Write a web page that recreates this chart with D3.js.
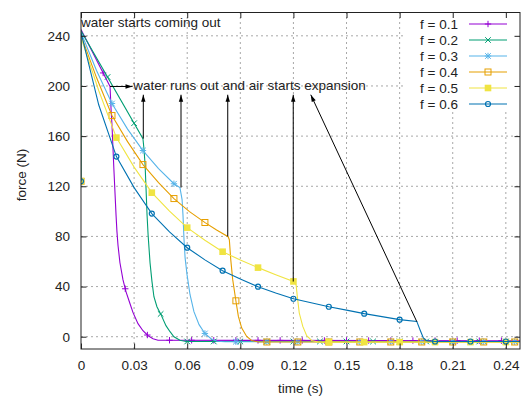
<!DOCTYPE html>
<html>
<head>
<meta charset="utf-8">
<script src="https://cdn.jsdelivr.net/npm/d3@7"></script>
<style>
  body { margin: 0; background: #fff; }
  svg { display: block; font-family: "Liberation Sans", Arial, sans-serif; }
</style>
</head>
<body>
<svg width="522" height="396"></svg>
<script>
// dữ liệu: [thời gian (s), lực (N)]
const seriesNames = ["f = 0.1", "f = 0.2", "f = 0.3", "f = 0.4", "f = 0.5", "f = 0.6"];

const f01 = [[0,124],[0,245],[0.0164,199.6],[0.0170,181],[0.0175,169],[0.0186,133],[0.0198,97],
  [0.0203,84],[0.0209,73],[0.0220,59],[0.0237,45.5],[0.0254,36],[0.0277,26.3],[0.0294,19.2],
  [0.0322,10.4],[0.0350,4.8],[0.0379,0.8],[0.0407,-1.6],[0.0435,-2.8],[0.248,-3.2]];
const f02 = [[0,124],[0,244],[0.035,158],[0.0356,149.3],[0.0362,137.3],[0.0367,119.7],[0.0373,97.4],
  [0.0379,81.4],[0.0390,59],[0.0401,43.9],[0.0412,31.9],[0.0429,23.9],[0.0452,17.6],[0.0480,8.8],
  [0.0503,4],[0.0525,0],[0.0559,-2.8],[0.0593,-3.8],[0.248,-3.8]];
const f03 = [[0,124],[0,242.7],[0.00876,212.3],[0.0175,186],[0.0263,165.6],[0.035,148.5],[0.0438,134.1],
  [0.0525,122],[0.0559,118.9],[0.0571,109.4],[0.0576,97.4],[0.0582,77.4],[0.0588,63.1],[0.0599,49.5],
  [0.0616,33.5],[0.0638,20],[0.0667,9.6],[0.0701,2.4],[0.0735,-1.6],[0.0768,-3.6],[0.0814,-4],[0.248,-4]];
const f04 = [[0,124],[0,240.3],[0.00876,206.7],[0.0175,176.4],[0.0263,155.6],[0.035,137.3],[0.0438,122.9],
  [0.0525,110.2],[0.0613,99.8],[0.0701,91],[0.0766,85.1],[0.0831,79.8],[0.0838,77.4],[0.0846,61.5],
  [0.0857,45.5],[0.0876,27.7],[0.0889,16.2],[0.0908,6.9],[0.0936,0.2],[0.0964,-3],[0.1002,-4.2],[0.248,-4.2]];
const f05 = [[0,124],[0,238.7],[0.01,196.4],[0.02,158.8],[0.03,135.3],[0.04,114.9],[0.05,100.2],[0.06,87],
  [0.07,77],[0.08,67.8],[0.09,61.2],[0.1,55.1],[0.11,49.5],[0.12,44.1],[0.1215,41.5],[0.1222,32.2],
  [0.1233,18.9],[0.1253,8.2],[0.1275,0.8],[0.1303,-3],[0.1341,-4.3],[0.248,-4.3]];
const f06 = [[0,124],[0,242.7],[0.01,185],[0.02,143.7],[0.03,118.9],[0.04,98.2],[0.05,83.6],[0.06,71],
  [0.07,61.3],[0.08,52.7],[0.09,46],[0.1,39.9],[0.11,34.9],[0.12,30.3],[0.13,27.1],[0.14,23.9],
  [0.15,21.2],[0.16,18.4],[0.17,16],[0.18,13.6],[0.1897,12.2],[0.1915,5.6],[0.1934,-1],[0.1953,-3.2],
  [0.2,-3.8],[0.248,-3.8]];

// khoảng cách thời gian giữa các điểm đánh dấu (như pointinterval của gnuplot)
const markerStep = [0.0125, 0.015, 0.0175, 0.0175, 0.02, 0.02];
const colors = ["#9400d3", "#009e73", "#56b4e9", "#e69f00", "#f0e442", "#0072b2"];
const shapes = ["plus", "cross", "star", "square", "filledSquare", "circle"];

const xTicks = [0, 0.03, 0.06, 0.09, 0.12, 0.15, 0.18, 0.21, 0.24];
const yTicks = [0, 40, 80, 120, 160, 200, 240];

// chú thích: điểm gãy của từng đường và đỉnh mũi tên
const bendT = [0.0352, 0.0565, 0.0829, 0.1199, 0.1897];
const bendV = [158, 119, 80, 44, 12];
const tipT = [0.0352, 0.0565, 0.0829, 0.1199, 0.1298];
const tipV = 193;
const runOutArrow = [[0.0164, 199.6], [0.0291, 199.6]];
const runOutLabel = { t: 0.0295, v: 200, text: "water runs out and air starts expansion" };
const startLabel = { t: 0, v: 250.6, text: "water starts coming out" };

const allSeries = [f01, f02, f03, f04, f05, f06];

const svg = d3.select("svg");
const W = +svg.attr("width"), H = +svg.attr("height");
const margin = { top: 12.5, right: 2, bottom: 47, left: 81 };

const x = d3.scaleLinear().domain([0, 0.248]).range([margin.left, W - margin.right]);
const y = d3.scaleLinear().domain([-9.8, 258.6]).range([H - margin.bottom, margin.top]);

const ink = "#222";

// lưới
const grid = svg.append("g").attr("stroke", "#a8a8a8").attr("stroke-width", 1).attr("stroke-dasharray", "2,3");
xTicks.slice(1).forEach(t => {
  grid.append("line").attr("x1", x(t)).attr("x2", x(t)).attr("y1", y.range()[0]).attr("y2", y.range()[1]);
});
yTicks.forEach(v => {
  grid.append("line").attr("x1", x.range()[0]).attr("x2", x.range()[1]).attr("y1", y(v)).attr("y2", y(v));
});

// nền trắng của chú giải
svg.append("rect")
  .attr("x", 404).attr("y", margin.top).attr("width", x.range()[1] - 404).attr("height", 98)
  .attr("fill", "#fff");

// vẽ đường
svg.append("defs").append("clipPath").attr("id", "plot")
  .append("rect")
  .attr("x", x.range()[0]).attr("y", y.range()[1])
  .attr("width", x.range()[1] - x.range()[0]).attr("height", y.range()[0] - y.range()[1]);

const line = d3.line().x(d => x(d[0])).y(d => y(d[1]));
const plot = svg.append("g").attr("clip-path", "url(#plot)");

// nội suy giá trị trên đường gấp khúc tại thời điểm t (để đặt marker)
function valueAt(pts, t) {
  if (t <= pts[0][0]) return pts[0][1];
  for (let i = 1; i < pts.length; i++) {
    const a = pts[i - 1], b = pts[i];
    if (t <= b[0] && b[0] > a[0]) {
      return a[1] + (b[1] - a[1]) * (t - a[0]) / (b[0] - a[0]);
    }
  }
  return pts[pts.length - 1][1];
}

function drawMarker(g, shape, cx, cy, color) {
  const s = 3.2;
  if (shape === "plus" || shape === "star") {
    g.append("path").attr("d", `M${cx - s},${cy}H${cx + s}M${cx},${cy - s}V${cy + s}`)
      .attr("stroke", color).attr("stroke-width", 1).attr("fill", "none");
  }
  if (shape === "cross" || shape === "star") {
    const c = 2.8;
    g.append("path").attr("d", `M${cx - c},${cy - c}L${cx + c},${cy + c}M${cx - c},${cy + c}L${cx + c},${cy - c}`)
      .attr("stroke", color).attr("stroke-width", 1).attr("fill", "none");
  }
  if (shape === "square") {
    g.append("rect").attr("x", cx - 3).attr("y", cy - 3).attr("width", 6).attr("height", 6)
      .attr("fill", "none").attr("stroke", color).attr("stroke-width", 1);
  }
  if (shape === "filledSquare") {
    g.append("rect").attr("x", cx - 3.3).attr("y", cy - 3.3).attr("width", 6.6).attr("height", 6.6)
      .attr("fill", color);
  }
  if (shape === "circle") {
    g.append("circle").attr("cx", cx).attr("cy", cy).attr("r", 2.5)
      .attr("fill", "none").attr("stroke", color).attr("stroke-width", 1.2);
  }
}

allSeries.forEach((pts, i) => {
  plot.append("path")
    .datum(pts)
    .attr("d", line)
    .attr("fill", "none")
    .attr("stroke", colors[i])
    .attr("stroke-width", 1.1);
  const mg = plot.append("g");
  for (let k = 0; k * markerStep[i] <= x.domain()[1] + 1e-9; k++) {
    const t = k * markerStep[i];
    drawMarker(mg, shapes[i], x(t), y(valueAt(pts, t)), colors[i]);
  }
});

// mũi tên và chữ chú thích
const defs = svg.select("defs");
defs.append("marker")
  .attr("id", "head")
  .attr("viewBox", "-8 -4 9 8")
  .attr("refX", 0).attr("refY", 0)
  .attr("markerWidth", 9).attr("markerHeight", 8)
  .attr("markerUnits", "userSpaceOnUse")
  .attr("orient", "auto")
  .append("path").attr("d", "M0,0L-7,-2.2L-7,2.2Z").attr("fill", "#000");

const notes = svg.append("g").attr("stroke", "#000").attr("stroke-width", 1);
bendT.forEach((t, i) => {
  notes.append("line")
    .attr("x1", x(t)).attr("y1", y(bendV[i]))
    .attr("x2", x(tipT[i])).attr("y2", y(tipV))
    .attr("marker-end", "url(#head)");
});
notes.append("line")
  .attr("x1", x(runOutArrow[0][0])).attr("y1", y(runOutArrow[0][1]))
  .attr("x2", x(runOutArrow[1][0])).attr("y2", y(runOutArrow[1][1]))
  .attr("marker-end", "url(#head)");

svg.append("text")
  .attr("x", x(runOutLabel.t)).attr("y", y(runOutLabel.v))
  .attr("dominant-baseline", "central")
  .attr("font-size", "13.5px").attr("fill", ink)
  .text(runOutLabel.text);
svg.append("text")
  .attr("x", x(startLabel.t)).attr("y", y(startLabel.v))
  .attr("dominant-baseline", "central")
  .attr("font-size", "13.5px").attr("fill", ink)
  .text(startLabel.text);

// chú giải
const legend = svg.append("g");
seriesNames.forEach((name, i) => {
  const ly = 24 + i * 16;
  legend.append("text")
    .attr("x", 458).attr("y", ly)
    .attr("text-anchor", "end").attr("dominant-baseline", "central")
    .attr("font-size", "13.5px").attr("fill", ink)
    .text(name);
  legend.append("line")
    .attr("x1", 469).attr("x2", 507).attr("y1", ly).attr("y2", ly)
    .attr("stroke", colors[i]).attr("stroke-width", 1.1);
  drawMarker(legend, shapes[i], 488, ly, colors[i]);
});

// trục, vạch chia hướng vào trong
const fmtX = d => d === 0 ? "0" : d3.format(".2f")(d);
const axB = svg.append("g").attr("transform", `translate(0,${y.range()[0]})`)
  .call(d3.axisBottom(x).tickValues(xTicks).tickFormat(fmtX).tickSizeInner(-5.5).tickSizeOuter(0).tickPadding(11));
const axT = svg.append("g").attr("transform", `translate(0,${y.range()[1]})`)
  .call(d3.axisTop(x).tickValues(xTicks).tickFormat("").tickSizeInner(-5.5).tickSizeOuter(0));
const axL = svg.append("g").attr("transform", `translate(${x.range()[0]},0)`)
  .call(d3.axisLeft(y).tickValues(yTicks).tickFormat(d3.format("d")).tickSizeInner(-5.5).tickSizeOuter(0).tickPadding(11));
const axR = svg.append("g").attr("transform", `translate(${x.range()[1]},0)`)
  .call(d3.axisRight(y).tickValues(yTicks).tickFormat("").tickSizeInner(-5.5).tickSizeOuter(0));

[axB, axT, axL, axR].forEach(a => {
  a.select(".domain").remove();
  a.selectAll(".tick line").attr("stroke", ink);
  a.selectAll(".tick text").attr("font-size", "13.5px").attr("fill", ink)
    .style("font-family", "'Liberation Sans', Arial, sans-serif");
});

// khung
svg.append("rect")
  .attr("x", x.range()[0]).attr("y", y.range()[1])
  .attr("width", x.range()[1] - x.range()[0]).attr("height", y.range()[0] - y.range()[1])
  .attr("fill", "none").attr("stroke", ink).attr("stroke-width", 1);

// tên trục
svg.append("text")
  .attr("x", (x.range()[0] + x.range()[1]) / 2).attr("y", 393)
  .attr("text-anchor", "middle")
  .attr("font-size", "13.5px").attr("fill", ink)
  .text("time (s)");
svg.append("text")
  .attr("transform", "translate(21,175) rotate(-90)")
  .attr("text-anchor", "middle").attr("dominant-baseline", "central")
  .attr("font-size", "13.5px").attr("fill", ink)
  .text("force (N)");
</script>
</body>
</html>
